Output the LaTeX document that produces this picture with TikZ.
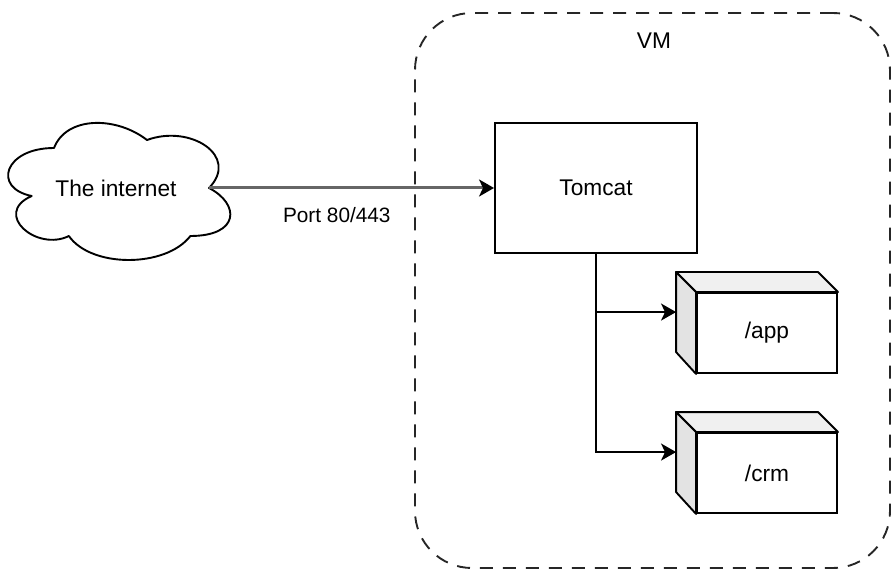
\documentclass[tikz,border=0pt]{standalone}
\usepackage{fontspec}
\setmainfont{Liberation Sans}
\usetikzlibrary{arrows.meta,calc}
\tikzset{
  lbl/.style={font=\fontsize{22.7pt}{27pt}\selectfont, text=black, inner sep=0pt},
  smalllbl/.style={font=\fontsize{20.8pt}{25pt}\selectfont, text=black, inner sep=0pt},
  plainbox/.style={draw=black, line width=1.9pt, fill=white, minimum width=202pt, minimum height=130pt, lbl},
  frontface/.style={draw=black, line width=1.9pt, fill=white, minimum width=140pt, minimum height=80pt, lbl},
  vmbox/.style={draw=black!85, line width=1.9pt, dash pattern=on 13pt off 10pt, rounded corners=57pt, minimum width=475pt, minimum height=555pt},
  conn/.style={draw=black, line width=1.9pt, -{Stealth[length=15pt,width=17pt,inset=4pt]}},
  mainconn/.style={draw=black!60, line width=3pt, -{Stealth[length=15pt,width=17pt,inset=4pt,color=black]}},
  topface/.style={fill=black!6, draw=black, line width=1.9pt, line join=round},
  sideface/.style={fill=black!11, draw=black, line width=1.9pt, line join=round}
}
\begin{document}
\begin{tikzpicture}[x=1pt,y=-1pt]
\useasboundingbox (0,0) rectangle (891,569);
% VM container
\node[vmbox] (vm) at (652.5,290.5) {};
\node[lbl] (vmlabel) at (654,41) {VM};
% cloud
\draw[line width=1.9pt, fill=white, line join=round] (54,148)
  .. controls (4.4,148) and (-8,188) .. (31.68,196)
  .. controls (-8,213.6) and (36.64,252) .. (68.88,236)
  .. controls (91.2,268) and (165.6,268) .. (190.4,236)
  .. controls (240,236) and (240,204) .. (209,188)
  .. controls (240,156) and (190.4,124) .. (147,140)
  .. controls (116,116) and (66.4,116) .. (54,148) -- cycle;
\node[lbl, minimum width=186pt, minimum height=20pt] (cloud) at (116,188) {The internet};
% Tomcat
\node[plainbox] (tomcat) at (596,188) {Tomcat};
% /app box
\node[frontface] (app) at (767,333) {/app};
\draw[topface] (app.north west) -- ++(-20,-20) -- ($(app.north east)+(-20,-20)$) -- (app.north east) -- cycle;
\draw[sideface] (app.north west) -- ++(-20,-20) -- ++(0,80) -- (app.south west) -- cycle;
\coordinate (appin) at ($(app.north west)+(-20,20)$);
% /crm box
\node[frontface] (crm) at (767,473) {/crm};
\draw[topface] (crm.north west) -- ++(-20,-20) -- ($(crm.north east)+(-20,-20)$) -- (crm.north east) -- cycle;
\draw[sideface] (crm.north west) -- ++(-20,-20) -- ++(0,80) -- (crm.south west) -- cycle;
\coordinate (crmin) at ($(crm.north west)+(-20,20)$);
% connectors
\draw[mainconn] (cloud.east) -- node[smalllbl, pos=0.448, yshift=-27pt] (portlbl) {Port 80/443} (tomcat.west);
\draw[conn] (tomcat.south) |- (appin);
\draw[conn] (tomcat.south) |- (crmin);
\end{tikzpicture}
\end{document}
